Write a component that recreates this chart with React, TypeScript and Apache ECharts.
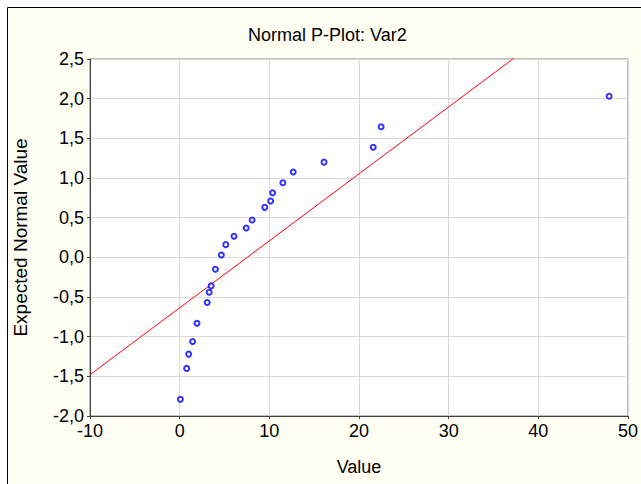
import React, { useEffect, useRef } from "react";
import * as echarts from "echarts";

const valueX = [0.08, 0.78, 1.0, 1.44, 1.93, 3.07, 3.29, 3.51, 3.99, 4.65, 5.14, 6.06, 7.42, 8.08, 9.49, 10.15, 10.37, 11.51, 12.66, 16.1, 21.59, 22.47, 47.9];
const expectedY = [-1.79, -1.4, -1.22, -1.06, -0.83, -0.57, -0.44, -0.36, -0.15, 0.03, 0.16, 0.265, 0.37, 0.47, 0.63, 0.71, 0.814, 0.94, 1.075, 1.2, 1.387, 1.646, 2.03];
const lineX = [-10, 50];
const lineY = [-1.48, 3.584];

export default function App() {
  const ref = useRef<HTMLDivElement>(null);
  useEffect(() => {
    const chart = echarts.init(ref.current!, null, { renderer: "svg" });
    const font = "Liberation Sans, Arial, sans-serif";
    chart.setOption({
      animation: false,
      backgroundColor: "#ffffff",
      graphic: [
        {
          type: "rect",
          z: -10,
          shape: { x: 7.5, y: 7.5, width: 700, height: 600 },
          style: { fill: "#fffef2", stroke: "#000000", lineWidth: 1 },
          silent: true,
        },
      ],
      title: {
        text: "Normal P-Plot: Var2",
        left: 243,
        top: 21,
        textStyle: { fontFamily: font, fontSize: 18, fontWeight: "normal", color: "#000" },
      },
      grid: {
        left: 90,
        top: 59,
        right: 9,
        bottom: 68,
        show: true,
        backgroundColor: "#ffffff",
        borderColor: "#808080",
        borderWidth: 1,
      },
      xAxis: {
        type: "value",
        min: -10,
        max: 50,
        interval: 10,
        name: "Value",
        nameLocation: "middle",
        nameGap: 42,
        nameTextStyle: { fontFamily: font, fontSize: 18, color: "#000" },
        axisLine: { show: true, onZero: false, lineStyle: { color: "#404040", width: 1 } },
        axisTick: { show: true, length: 3, lineStyle: { color: "#404040" } },
        axisLabel: { fontFamily: font, fontSize: 18, color: "#000", margin: 6 },
        splitLine: { show: true, lineStyle: { color: "#d9d9d9", width: 1 } },
      },
      yAxis: {
        type: "value",
        min: -2,
        max: 2.5,
        interval: 0.5,
        name: "Expected Normal Value",
        nameLocation: "middle",
        nameGap: 60,
        nameTextStyle: { fontFamily: font, fontSize: 19, color: "#000" },
        axisLine: { show: true, onZero: false, lineStyle: { color: "#404040", width: 1 } },
        axisTick: { show: true, length: 3, lineStyle: { color: "#404040" } },
        axisLabel: {
          fontFamily: font,
          fontSize: 18,
          color: "#000",
          margin: 6,
          formatter: (v: number) => v.toFixed(1).replace(".", ","),
        },
        splitLine: { show: true, lineStyle: { color: "#d9d9d9", width: 1 } },
      },
      series: [
        {
          type: "line",
          data: lineX.map((x, i) => [x, lineY[i]]),
          showSymbol: false,
          symbol: "none",
          clip: true,
          lineStyle: { color: "#ff0000", width: 1 },
          z: 2,
        },
        {
          type: "scatter",
          data: valueX.map((x, i) => [x, expectedY[i]]),
          symbol: "emptyCircle",
          symbolSize: 5,
          itemStyle: { color: "#0000ff", borderColor: "#0000ff", borderWidth: 2.5 },
          z: 3,
        },
      ],
    });
    return () => chart.dispose();
  }, []);
  return (
    <div
      ref={ref}
      style={{ position: "fixed", left: 0, top: 0, width: 641, height: 484 }}
    />
  );
}
